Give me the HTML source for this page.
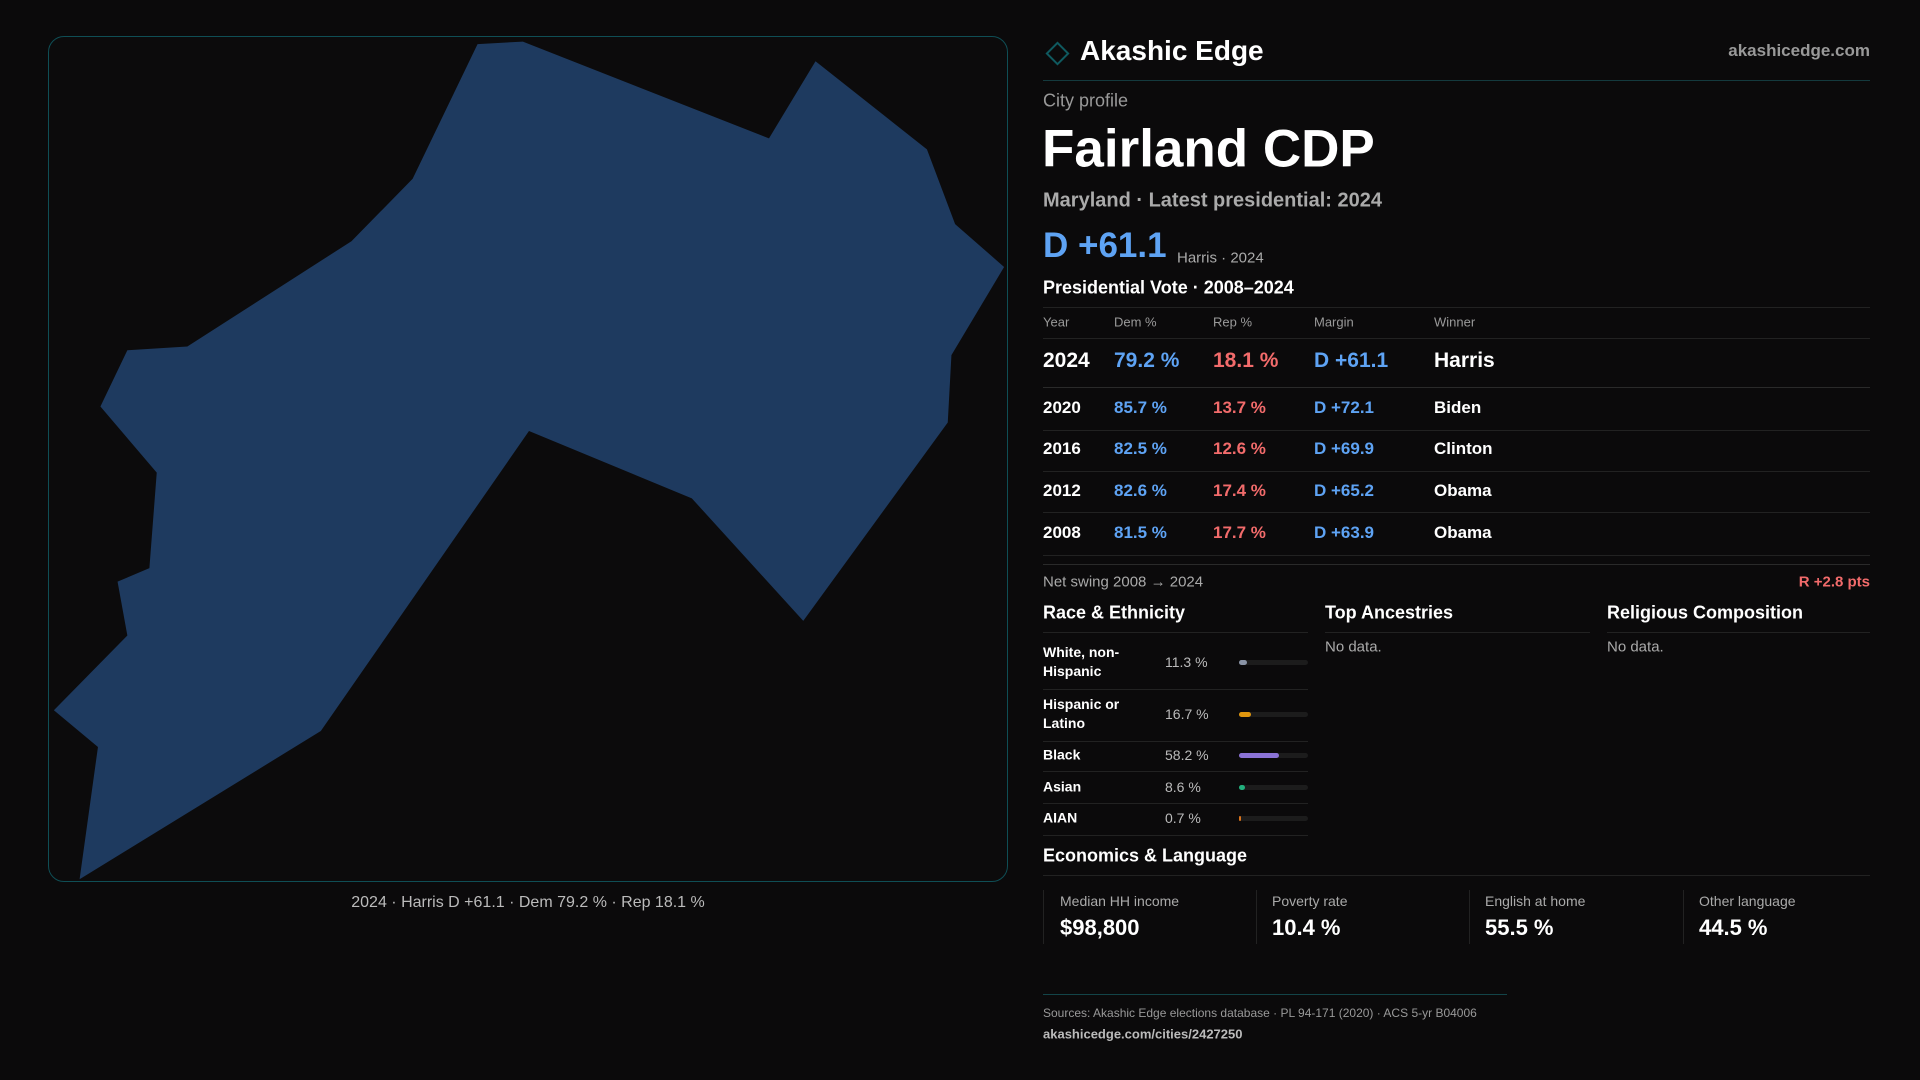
<!DOCTYPE html>
<html><head><meta charset="utf-8"><style>
*{margin:0;padding:0;box-sizing:border-box}
body{width:1920px;height:1080px;background:#0b0a0b;font-family:"Liberation Sans",sans-serif;color:#fff;position:relative;overflow:hidden}
.a{position:absolute;white-space:nowrap}
.mid{transform:translateY(-50%)}
.line{position:absolute;height:1px;background:#222}
.blue{color:#5ea3f4}.red{color:#f26b6b}.grey{color:#9a9a9a}
.th{font-size:13px;color:#9a9a9a}
.row{font-size:17px;font-weight:bold}
.bar{position:absolute;left:1239px;width:69px;height:5px;border-radius:3px;background:#1c1c1c}
.bar i{position:absolute;left:0;top:0;height:5px;border-radius:3px}
.card{position:absolute;top:890px;height:54px;border-left:1px solid #222}
</style></head><body>
<div style="position:absolute;left:48px;top:36px;width:960px;height:846px;border:1px solid #0f4e55;border-radius:16px;background:#0c0b0c;overflow:hidden">
<svg width="960" height="846" style="position:absolute;left:-1px;top:-1px"><g transform="translate(-48,-36) scale(1.2245)">
<polygon fill="#1e3a5f" points="390,36 427,34 628,113 666,50 757,122 780,183 820,218 777,290 774,345 656,507 565,407 432,352 262,597 65,718 80,610 44,580 104,519 96,475 122,464 128,386 82,332 104,286 153,283 287,197 337,146"/>
</g></svg></div>
<div class="a mid" style="left:528px;top:903px;transform:translate(-50%,-50%);font-size:16px;color:#bbb">2024 · Harris D +61.1 · Dem 79.2 % · Rep 18.1 %</div>

<div class="a" style="left:1049px;top:45px;width:17px;height:17px;border:2px solid #0f5a60;transform:rotate(45deg)"></div>
<div class="a mid" style="left:1080px;top:51px;font-size:28px;font-weight:bold">Akashic Edge</div>
<div class="a mid" style="right:50px;top:51px;font-size:17px;color:#999;font-weight:bold">akashicedge.com</div>
<div class="line" style="left:1043px;top:80px;width:827px;background:#143a3e"></div>
<div class="a mid" style="left:1043px;top:101px;font-size:18px;color:#999">City profile</div>
<div class="a mid" style="left:1042px;top:149px;font-size:53px;font-weight:bold">Fairland CDP</div>
<div class="a mid" style="left:1043px;top:201px;font-size:20px;color:#aaa;font-weight:bold">Maryland · Latest presidential: 2024</div>
<div class="a mid blue" style="left:1043px;top:246px;font-size:35px;font-weight:bold">D +61.1</div>
<div class="a mid" style="left:1177px;top:258px;font-size:15px;color:#aaa">Harris · 2024</div>
<div class="a mid" style="left:1043px;top:288px;font-size:18px;font-weight:bold">Presidential Vote · 2008–2024</div>
<div class="line" style="left:1043px;top:307px;width:827px"></div>
<div class="a mid th" style="left:1043px;top:322px">Year</div>
<div class="a mid th" style="left:1114px;top:322px">Dem %</div>
<div class="a mid th" style="left:1213px;top:322px">Rep %</div>
<div class="a mid th" style="left:1314px;top:322px">Margin</div>
<div class="a mid th" style="left:1434px;top:322px">Winner</div>
<div class="line" style="left:1043px;top:338px;width:827px"></div>
<div>
<div class="a mid row" style="left:1043px;top:361px;font-size:21px">2024</div>
<div class="a mid row blue" style="left:1114px;top:361px;font-size:21px">79.2 %</div>
<div class="a mid row red" style="left:1213px;top:361px;font-size:21px">18.1 %</div>
<div class="a mid row blue" style="left:1314px;top:361px;font-size:21px">D +61.1</div>
<div class="a mid row" style="left:1434px;top:361px;font-size:21px">Harris</div></div>
<div class="line" style="left:1043px;top:387px;width:827px;background:#2a2a2a"></div>
<div>
<div class="a mid row" style="left:1043px;top:408px">2020</div><div class="a mid row blue" style="left:1114px;top:408px">85.7 %</div><div class="a mid row red" style="left:1213px;top:408px">13.7 %</div><div class="a mid row blue" style="left:1314px;top:408px">D +72.1</div><div class="a mid row" style="left:1434px;top:408px">Biden</div></div>
<div class="line" style="left:1043px;top:430px;width:827px"></div>
<div>
<div class="a mid row" style="left:1043px;top:449px">2016</div><div class="a mid row blue" style="left:1114px;top:449px">82.5 %</div><div class="a mid row red" style="left:1213px;top:449px">12.6 %</div><div class="a mid row blue" style="left:1314px;top:449px">D +69.9</div><div class="a mid row" style="left:1434px;top:449px">Clinton</div></div>
<div class="line" style="left:1043px;top:471px;width:827px"></div>
<div>
<div class="a mid row" style="left:1043px;top:491px">2012</div><div class="a mid row blue" style="left:1114px;top:491px">82.6 %</div><div class="a mid row red" style="left:1213px;top:491px">17.4 %</div><div class="a mid row blue" style="left:1314px;top:491px">D +65.2</div><div class="a mid row" style="left:1434px;top:491px">Obama</div></div>
<div class="line" style="left:1043px;top:512px;width:827px"></div>
<div>
<div class="a mid row" style="left:1043px;top:533px">2008</div><div class="a mid row blue" style="left:1114px;top:533px">81.5 %</div><div class="a mid row red" style="left:1213px;top:533px">17.7 %</div><div class="a mid row blue" style="left:1314px;top:533px">D +63.9</div><div class="a mid row" style="left:1434px;top:533px">Obama</div></div>
<div class="line" style="left:1043px;top:555px;width:827px"></div>
<div class="line" style="left:1043px;top:564px;width:827px;background:#2a2a2a"></div>
<div class="a mid" style="left:1043px;top:582px;font-size:15px;color:#aaa">Net swing 2008 → 2024</div>
<div class="a mid red" style="right:50px;top:582px;font-size:15px;font-weight:bold">R +2.8 pts</div>

<div class="a mid" style="left:1043px;top:613px;font-size:18px;font-weight:bold">Race &amp; Ethnicity</div>
<div class="a mid" style="left:1325px;top:613px;font-size:18px;font-weight:bold">Top Ancestries</div>
<div class="a mid" style="left:1607px;top:613px;font-size:18px;font-weight:bold">Religious Composition</div>
<div class="line" style="left:1043px;top:632px;width:265px"></div>
<div class="line" style="left:1325px;top:632px;width:265px"></div>
<div class="line" style="left:1607px;top:632px;width:263px"></div>
<div class="a mid" style="left:1325px;top:647px;font-size:15px;color:#aaa">No data.</div>
<div class="a mid" style="left:1607px;top:647px;font-size:15px;color:#aaa">No data.</div>
<div id="race"></div>

<div class="a mid" style="left:1043px;top:856px;font-size:18px;font-weight:bold">Economics &amp; Language</div>
<div class="line" style="left:1043px;top:875px;width:827px"></div>
<div class="card" style="left:1043px;width:213px"><div class="a" style="left:16px;top:3px;font-size:14px;color:#aaa">Median HH income</div><div class="a" style="left:16px;top:25px;font-size:22px;font-weight:bold">$98,800</div></div>
<div class="card" style="left:1256px;width:213px"><div class="a" style="left:15px;top:3px;font-size:14px;color:#aaa">Poverty rate</div><div class="a" style="left:15px;top:25px;font-size:22px;font-weight:bold">10.4 %</div></div>
<div class="card" style="left:1469px;width:213px"><div class="a" style="left:15px;top:3px;font-size:14px;color:#aaa">English at home</div><div class="a" style="left:15px;top:25px;font-size:22px;font-weight:bold">55.5 %</div></div>
<div class="card" style="left:1683px;width:187px"><div class="a" style="left:15px;top:3px;font-size:14px;color:#aaa">Other language</div><div class="a" style="left:15px;top:25px;font-size:22px;font-weight:bold">44.5 %</div></div>

<div class="line" style="left:1043px;top:994px;width:464px;background:#134448"></div>
<div class="a mid" style="left:1043px;top:1013px;font-size:12px;color:#999">Sources: Akashic Edge elections database · PL 94-171 (2020) · ACS 5-yr B04006</div>
<div class="a mid" style="left:1043px;top:1034px;font-size:13px;color:#bbb;font-weight:bold">akashicedge.com/cities/2427250</div>
<script>
const raceLabels=["White, non-<br>Hispanic","Hispanic or<br>Latino","Black","Asian","AIAN"];
const raceValues=[11.3,16.7,58.2,8.6,0.7];
const raceColors=["#8a94a6","#e0960e","#8b73d6","#22b07d","#d9731c"];
const rowY=[662,714,755,787,818];
const sepY=[689,741,771,803,835];
const box=document.getElementById('race');
const barScale=v=>Math.max(v/100*69,1.5);
raceValues.forEach((v,i)=>{
  const r=document.createElement('div');
  
  
  r.innerHTML='<div class="a mid" style="left:1043px;top:'+rowY[i]+'px;font-size:14px;font-weight:bold;line-height:19px">'+raceLabels[i]+'</div>'+
  '<div class="a mid" style="left:1165px;top:'+rowY[i]+'px;font-size:14px;color:#bbb">'+v.toFixed(1)+' %</div>'+
  '<div class="bar" style="top:'+(rowY[i]-2)+'px"><i style="width:'+barScale(v)+'px;background:'+raceColors[i]+'"></i></div>'+
  '<div class="line" style="left:1043px;top:'+sepY[i]+'px;width:265px"></div>';
  box.appendChild(r);
});
</script>
</body></html>
